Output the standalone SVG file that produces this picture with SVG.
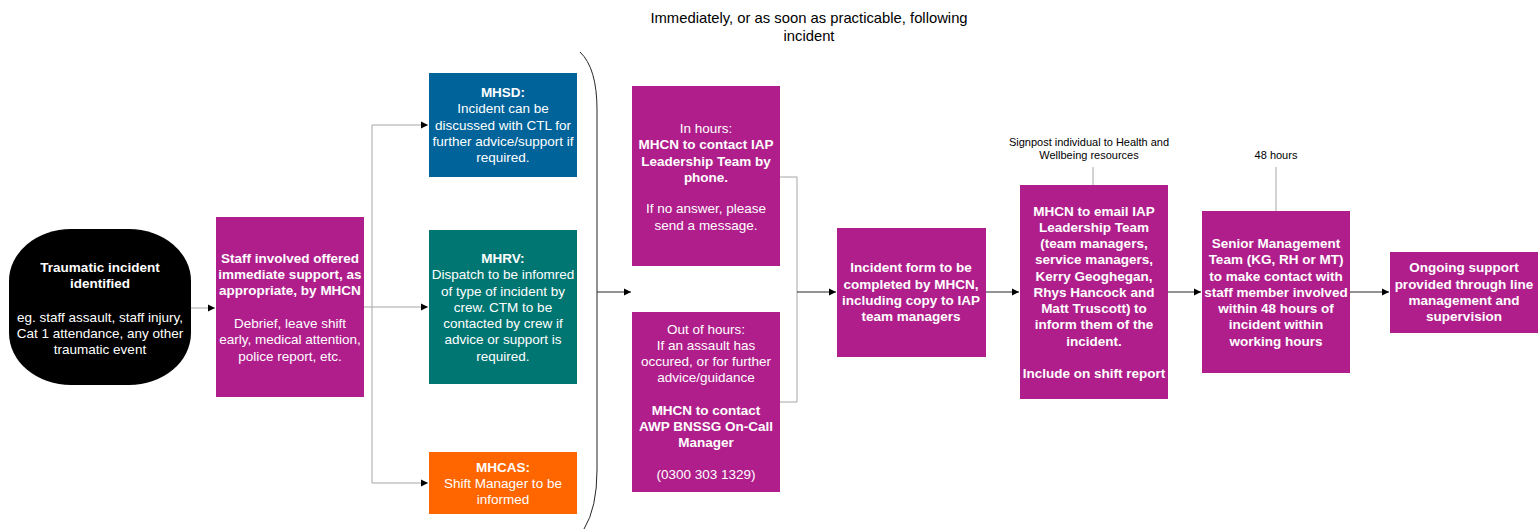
<svg xmlns="http://www.w3.org/2000/svg" width="1538" height="529" viewBox="0 0 1538 529">
<style>
text{font-family:"Liberation Sans",Arial,sans-serif;text-anchor:middle}
.w{fill:#fff;font-size:13.5px}
.b{font-weight:bold}
.k{fill:#000}
.mag{fill:#b01e8c}
.ln{fill:none;stroke:#a6a6a6;stroke-width:1}
.mn{fill:none;stroke:#262626;stroke-width:1}
</style>
<defs>
<marker id="ah" markerWidth="8" markerHeight="8" refX="7" refY="4" orient="auto" markerUnits="userSpaceOnUse">
<path d="M0,0.5 L7,4 L0,7.5 Z" fill="#000"/>
</marker>
</defs>
<rect width="1538" height="529" fill="#fff"/>

<g id="title">
<text class="k" x="809" y="23" font-size="14.8">Immediately, or as soon as practicable, following</text>
<text class="k" x="809" y="41" font-size="14.8">incident</text>
</g>

<g id="connectors">
<path class="ln" d="M191,308 L215,308" marker-end="url(#ah)"/>
<path class="ln" d="M364,307 L372,307 M372,125 L372,483"/>
<path class="ln" d="M372,125 L428,125" marker-end="url(#ah)"/>
<path class="ln" d="M372,307 L428,307" marker-end="url(#ah)"/>
<path class="ln" d="M372,483 L428,483" marker-end="url(#ah)"/>
<path class="mn" d="M580,52 Q597,68 597,110 L597,470 Q597,508 584,529"/>
<path class="mn" d="M597,292 L631,292" marker-end="url(#ah)"/>
<path class="ln" d="M780,177 L797,177 L797,402 L780,402"/>
<path class="mn" d="M797,292 L836,292" marker-end="url(#ah)"/>
<path class="mn" d="M986,292 L1019,292" marker-end="url(#ah)"/>
<path class="mn" d="M1168,292 L1201,292" marker-end="url(#ah)"/>
<path class="mn" d="M1350,292 L1389,292" marker-end="url(#ah)"/>
<path class="ln" d="M1093,167 L1093,185"/>
<path class="ln" d="M1276,167 L1276,211"/>
</g>

<g id="n-traumatic">
<rect x="9" y="229" width="182" height="156" rx="62" ry="52" fill="#000"/>
<text class="w b" x="100" y="272">Traumatic incident</text>
<text class="w b" x="100" y="288">identified</text>
<text class="w" x="100" y="322">eg. staff assault, staff injury,</text>
<text class="w" x="100" y="338">Cat 1 attendance, any other</text>
<text class="w" x="100" y="354">traumatic event</text>
</g>

<g id="n-staff">
<rect class="mag" x="216" y="217" width="148" height="180"/>
<text class="w b" x="290" y="263">Staff involved offered</text>
<text class="w b" x="290" y="279">immediate support, as</text>
<text class="w b" x="290" y="295">appropriate, by MHCN</text>
<text class="w" x="290" y="328">Debrief, leave shift</text>
<text class="w" x="290" y="344">early, medical attention,</text>
<text class="w" x="290" y="361">police report, etc.</text>
</g>

<g id="n-mhsd">
<rect x="429" y="73" width="148" height="104" fill="#00639a"/>
<text class="w b" x="503" y="97">MHSD:</text>
<text class="w" x="503" y="113">Incident can be</text>
<text class="w" x="503" y="130">discussed with CTL for</text>
<text class="w" x="503" y="146">further advice/support if</text>
<text class="w" x="503" y="162">required.</text>
</g>

<g id="n-mhrv">
<rect x="429" y="230" width="148" height="154" fill="#007672"/>
<text class="w b" x="503" y="263">MHRV:</text>
<text class="w" x="503" y="279">Dispatch to be infomred</text>
<text class="w" x="503" y="296">of type of incident by</text>
<text class="w" x="503" y="312">crew. CTM to be</text>
<text class="w" x="503" y="328">contacted by crew if</text>
<text class="w" x="503" y="344">advice or support is</text>
<text class="w" x="503" y="361">required.</text>
</g>

<g id="n-mhcas">
<rect x="429" y="452" width="148" height="62" fill="#ff6600"/>
<text class="w b" x="503" y="472">MHCAS:</text>
<text class="w" x="503" y="488">Shift Manager to be</text>
<text class="w" x="503" y="504">informed</text>
</g>

<g id="n-inhours">
<rect class="mag" x="632" y="86" width="148" height="180"/>
<text class="w" x="706" y="133">In hours:</text>
<text class="w b" x="706" y="149">MHCN to contact IAP</text>
<text class="w b" x="706" y="166">Leadership Team by</text>
<text class="w b" x="706" y="182">phone.</text>
<text class="w" x="706" y="213">If no answer, please</text>
<text class="w" x="706" y="230">send a message.</text>
</g>

<g id="n-outhours">
<rect class="mag" x="632" y="312" width="148" height="180"/>
<text class="w" x="706" y="334">Out of hours:</text>
<text class="w" x="706" y="350">If an assault has</text>
<text class="w" x="706" y="366">occured, or for further</text>
<text class="w" x="706" y="382">advice/guidance</text>
<text class="w b" x="706" y="415">MHCN to contact</text>
<text class="w b" x="706" y="431">AWP BNSSG On-Call</text>
<text class="w b" x="706" y="447">Manager</text>
<text class="w" x="706" y="479">(0300 303 1329)</text>
</g>

<g id="n-form">
<rect class="mag" x="837" y="228" width="149" height="129"/>
<text class="w b" x="911" y="272">Incident form to be</text>
<text class="w b" x="911" y="289">completed by MHCN,</text>
<text class="w b" x="911" y="305">including copy to IAP</text>
<text class="w b" x="911" y="321">team managers</text>
</g>

<g id="n-email">
<text class="k" x="1089" y="146" font-size="11">Signpost individual to Health and</text>
<text class="k" x="1089" y="159" font-size="11">Wellbeing resources</text>
<rect class="mag" x="1020" y="185" width="148" height="214"/>
<text class="w b" x="1094" y="216">MHCN to email IAP</text>
<text class="w b" x="1094" y="232">Leadership Team</text>
<text class="w b" x="1094" y="248">(team managers,</text>
<text class="w b" x="1094" y="264">service managers,</text>
<text class="w b" x="1094" y="281">Kerry Geoghegan,</text>
<text class="w b" x="1094" y="297">Rhys Hancock and</text>
<text class="w b" x="1094" y="313">Matt Truscott) to</text>
<text class="w b" x="1094" y="329">inform them of the</text>
<text class="w b" x="1094" y="346">incident.</text>
<text class="w b" x="1094" y="378">Include on shift report</text>
</g>

<g id="n-senior">
<text class="k" x="1276" y="159" font-size="11">48 hours</text>
<rect class="mag" x="1202" y="211" width="148" height="162"/>
<text class="w b" x="1276" y="248">Senior Management</text>
<text class="w b" x="1276" y="264">Team (KG, RH or MT)</text>
<text class="w b" x="1276" y="281">to make contact with</text>
<text class="w b" x="1276" y="297">staff member involved</text>
<text class="w b" x="1276" y="313">within 48 hours of</text>
<text class="w b" x="1276" y="329">incident within</text>
<text class="w b" x="1276" y="346">working hours</text>
</g>

<g id="n-ongoing">
<rect class="mag" x="1390" y="252" width="148" height="81"/>
<text class="w b" x="1464" y="272">Ongoing support</text>
<text class="w b" x="1464" y="289">provided through line</text>
<text class="w b" x="1464" y="305">management and</text>
<text class="w b" x="1464" y="321">supervision</text>
</g>
</svg>
